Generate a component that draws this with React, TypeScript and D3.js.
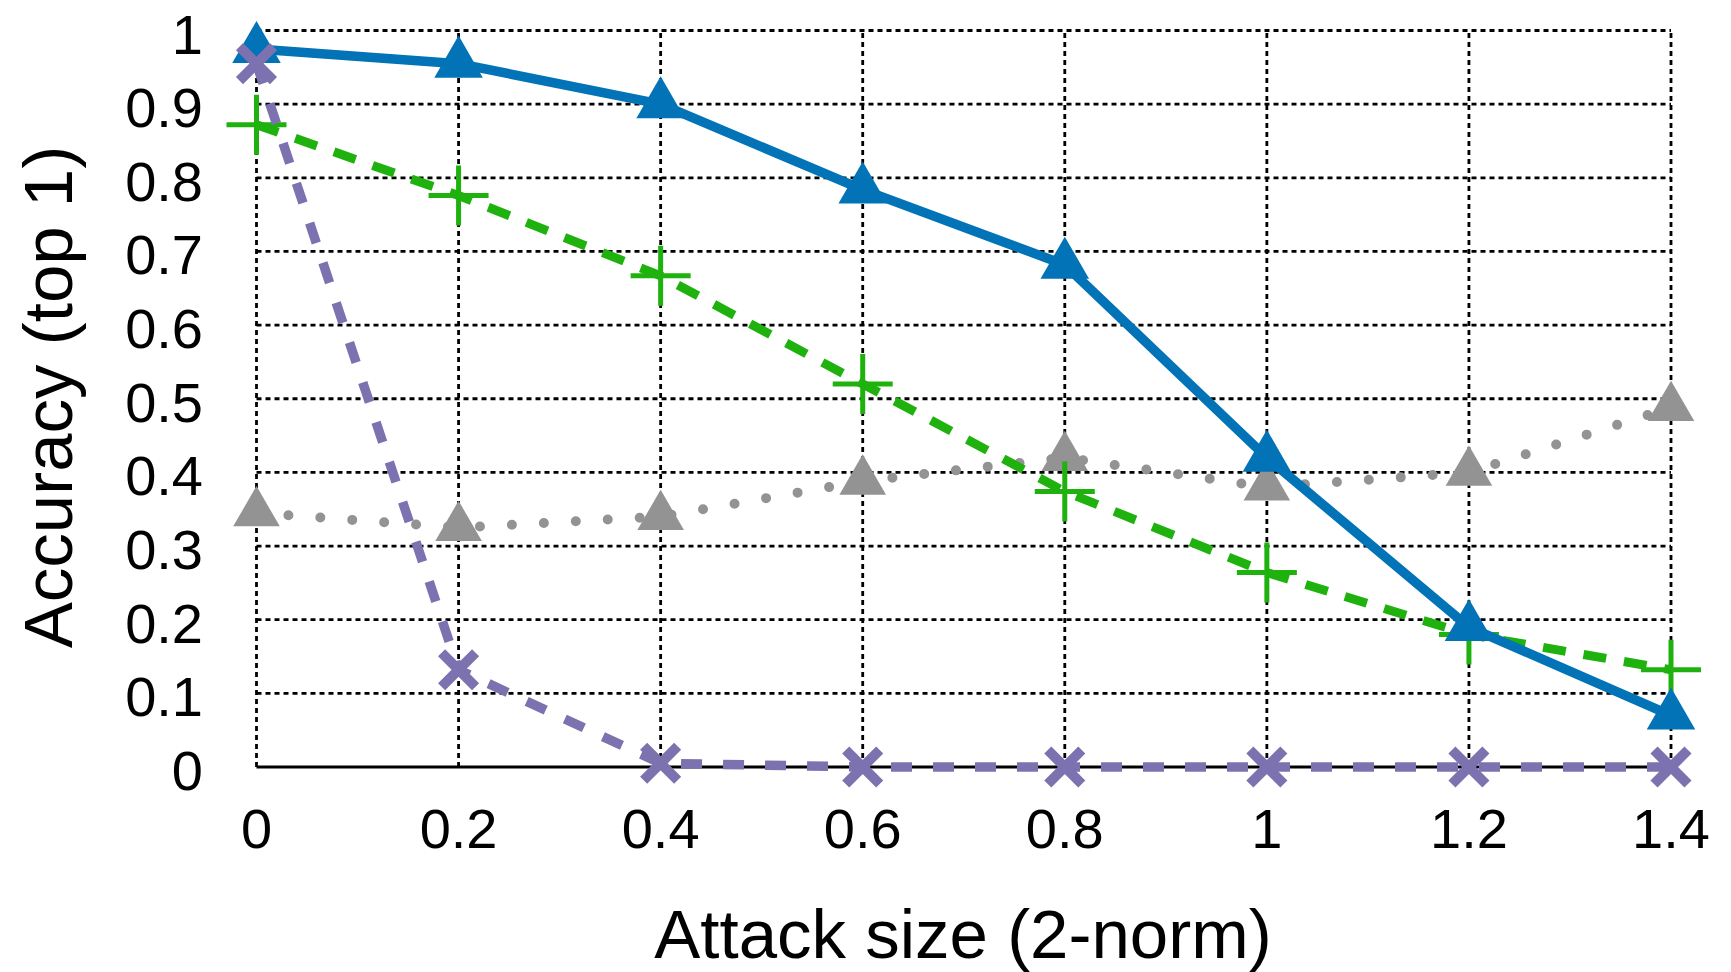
import * as d3 from "d3";
import React from "react";

// attack size (2-norm) on the x axis
const attackSizes = [0, 0.2, 0.4, 0.6, 0.8, 1.0, 1.2, 1.4];
const xTickLabels = ["0", "0.2", "0.4", "0.6", "0.8", "1", "1.2", "1.4"];
const yTicks = [0, 0.1, 0.2, 0.3, 0.4, 0.5, 0.6, 0.7, 0.8, 0.9, 1];
const yTickLabels = ["0", "0.1", "0.2", "0.3", "0.4", "0.5", "0.6", "0.7", "0.8", "0.9", "1"];

// top-1 accuracy for each series
const blueAcc = [0.975, 0.955, 0.9, 0.784, 0.682, 0.42, 0.19, 0.07];
const greenAcc = [0.872, 0.776, 0.667, 0.52, 0.374, 0.264, 0.18, 0.132];
const grayAcc = [0.345, 0.325, 0.34, 0.388, 0.42, 0.38, 0.4, 0.488];
const purpleAcc = [0.955, 0.132, 0.005, 0, 0, 0, 0, 0];

const WIDTH = 1731;
const HEIGHT = 972;
const FONT = "'Liberation Sans', Arial, Helvetica, sans-serif";

const x = d3.scaleLinear().domain([0, 1.4]).range([256.5, 1671]);
const y = d3.scaleLinear().domain([0, 1]).range([767, 30.5]);

const line = d3
    .line<number>()
    .x((_, i) => x(attackSizes[i]))
    .y((d) => y(d));

const triangle = (size: number) => d3.symbol(d3.symbolTriangle, size)() as string;

export default function App() {
    const blueTri = triangle(1020);
    const grayTri = triangle(940);

    return (
        <svg
            width={WIDTH}
            height={HEIGHT}
            style={{ position: "absolute", left: 0, top: 0, background: "#fff" }}
        >
            {/* grid */}
            <g stroke="#000" strokeWidth={2.8} strokeDasharray="5,4" fill="none">
                {attackSizes.map((v) => (
                    <line key={"gx" + v} x1={x(v)} x2={x(v)} y1={y(0)} y2={y(1)} />
                ))}
                {yTicks.slice(1).map((v) => (
                    <line key={"gy" + v} x1={x(0)} x2={x(1.4)} y1={y(v)} y2={y(v)} />
                ))}
            </g>
            <line x1={x(0)} x2={x(1.4)} y1={y(0)} y2={y(0)} stroke="#000" strokeWidth={2.8} />

            {/* tick labels */}
            <g fontFamily={FONT} fontSize={56} fill="#000">
                {yTicks.map((v, i) => (
                    <text key={"yt" + v} x={203} y={y(v) + 23} textAnchor="end">
                        {yTickLabels[i]}
                    </text>
                ))}
                {attackSizes.map((v, i) => (
                    <text key={"xt" + v} x={x(v)} y={848} textAnchor="middle">
                        {xTickLabels[i]}
                    </text>
                ))}
            </g>

            {/* axis titles */}
            <text x={963} y={958} textAnchor="middle" fontFamily={FONT} fontSize={69}>
                Attack size (2-norm)
            </text>
            <text
                transform="translate(71.5,397) rotate(-90)"
                textAnchor="middle"
                fontFamily={FONT}
                fontSize={69}
            >
                Accuracy (top 1)
            </text>

            {/* gray dotted series */}
            <path
                d={line(grayAcc) as string}
                fill="none"
                stroke="#939393"
                strokeWidth={10}
                strokeDasharray="0,32"
                strokeLinecap="round"
            />
            {grayAcc.map((v, i) => (
                <path key={"g" + i} d={grayTri} transform={`translate(${x(attackSizes[i])},${y(v)})`} fill="#939393" />
            ))}

            {/* green dashed series */}
            <path
                d={line(greenAcc) as string}
                fill="none"
                stroke="#1fb20f"
                strokeWidth={9}
                strokeDasharray="23,18"
            />
            {greenAcc.map((v, i) => (
                <path
                    key={"gr" + i}
                    d="M-30,0H30M0,-30V30"
                    transform={`translate(${x(attackSizes[i])},${y(v)})`}
                    stroke="#1fb20f"
                    strokeWidth={5}
                    fill="none"
                />
            ))}

            {/* blue solid series */}
            <path
                d={line(blueAcc) as string}
                fill="none"
                stroke="#0173b6"
                strokeWidth={9.5}
                strokeLinejoin="round"
            />
            {blueAcc.map((v, i) => (
                <path key={"b" + i} d={blueTri} transform={`translate(${x(attackSizes[i])},${y(v)})`} fill="#0173b6" />
            ))}

            {/* purple dashed series */}
            <path
                d={line(purpleAcc) as string}
                fill="none"
                stroke="#7d72b0"
                strokeWidth={9.5}
                strokeDasharray="21,21"
            />
            {purpleAcc.map((v, i) => (
                <path
                    key={"p" + i}
                    d="M-17,-17L17,17M-17,17L17,-17"
                    transform={`translate(${x(attackSizes[i])},${y(v)})`}
                    stroke="#7d72b0"
                    strokeWidth={10}
                    fill="none"
                />
            ))}
        </svg>
    );
}
